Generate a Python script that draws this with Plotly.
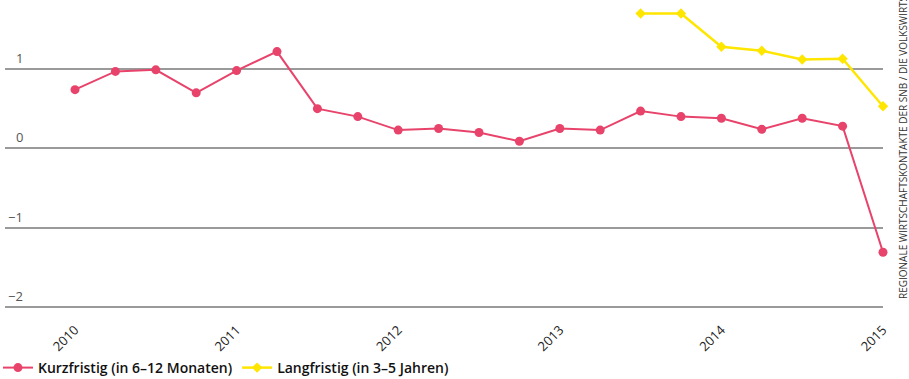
import plotly.graph_objects as go

quarters = [2010 + 0.25 * i for i in range(21)]
kurz = [0.74, 0.97, 0.99, 0.70, 0.98, 1.22, 0.50, 0.40, 0.23, 0.25, 0.20, 0.09,
        0.25, 0.23, 0.47, 0.40, 0.38, 0.24, 0.38, 0.28, -1.31]
lang_x = quarters[14:]
lang = [1.70, 1.70, 1.28, 1.23, 1.12, 1.13, 0.53]
year_ticks = [2010, 2011, 2012, 2013, 2014, 2015]
y_ticks = [1, 0, -1, -2]
y_labels = ["1", "0", "−1", "−2"]

RED = "#e8436a"
YEL = "#ffe600"
FONT = "Open Sans"

fig = go.Figure()
fig.add_trace(go.Scatter(x=quarters, y=kurz, mode="lines+markers",
                         name="Kurzfristig (in 6–12 Monaten)",
                         line=dict(color=RED, width=2),
                         marker=dict(color=RED, size=9, symbol="circle"),
                         cliponaxis=False))
fig.add_trace(go.Scatter(x=lang_x, y=lang, mode="lines+markers",
                         name="Langfristig (in 3–5 Jahren)",
                         line=dict(color=YEL, width=2.5),
                         marker=dict(color=YEL, size=8, symbol="diamond"),
                         cliponaxis=False))

for v, t in zip(y_ticks, y_labels):
    fig.add_annotation(x=0, xref="paper", xshift=20, y=v, yref="y", text=t,
                       showarrow=False, xanchor="right", yanchor="bottom", yshift=0,
                       font=dict(family=FONT, size=13, color="#555"))

fig.add_annotation(x=1, xref="paper", xshift=20, y=(319 - 301) / 319, yref="paper",
                   text="REGIONALE WIRTSCHAFTSKONTAKTE DER SNB / DIE VOLKSWIRTSCHAFT",
                   textangle=-90, showarrow=False, xanchor="center", yanchor="bottom",
                   font=dict(family=FONT, size=10, color="#333"))

fig.update_layout(
    width=909, height=379,
    margin=dict(l=5, r=26, t=0, b=60, autoexpand=False),
    paper_bgcolor="white", plot_bgcolor="white",
    showlegend=True,
    legend=dict(orientation="h", x=-0.008, xanchor="left", y=-0.1536, yanchor="middle",
                font=dict(family=FONT, size=14, color="#111", weight=600),
                itemwidth=30, tracegroupgap=0),
    xaxis=dict(range=[2010 - 70 / 161.6, 2015], tickvals=year_ticks,
               ticktext=[str(y) for y in year_ticks], tickangle=-45,
               showgrid=False, zeroline=False, showline=False, ticks="",
               tickfont=dict(family=FONT, size=13, color="#222")),
    yaxis=dict(range=[-2.151, 1.870], tickvals=y_ticks, showticklabels=False,
               showgrid=True, gridcolor="#9a9a9a", gridwidth=1.5,
               zeroline=False, showline=False, ticks=""),
    font=dict(family=FONT),
)

fig.write_html("out.html")
